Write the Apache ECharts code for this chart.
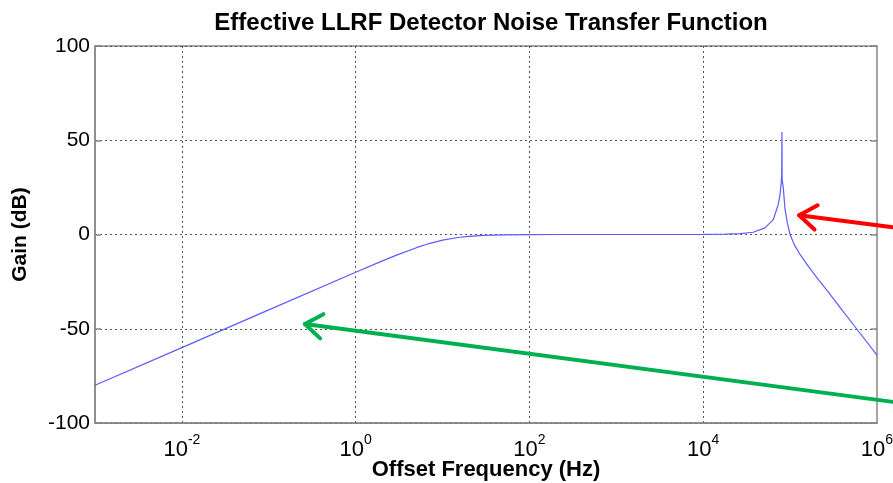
<!DOCTYPE html>
<html>
<head>
<meta charset="utf-8">
<script src="https://cdn.jsdelivr.net/npm/echarts@6/dist/echarts.min.js"></script>
<style>
html,body{margin:0;padding:0;background:#fff;}
#c{width:893px;height:483px;}
</style>
</head>
<body>
<div id="c"></div>
<script>
// ---- data ----
var freqHz = [0.001, 0.01, 0.1, 1, 2, 3, 5, 7, 10, 15, 20, 30, 50, 100, 200, 1000, 10000,
  18000, 26400, 37600, 51300, 64000, 72900, 76500, 79200, 80000, 80500, 81000, 83400, 87100,
  93000, 99800, 112000, 130000, 160000, 202000, 270000, 375000, 582000, 1000000];
var gainDb = [-80.0, -60.0, -40.0, -20.0, -14.1, -10.8, -7.0, -4.8, -3.0, -1.6, -1.0, -0.5, -0.2, -0.05, 0, 0, 0.05,
  0.2, 0.5, 1.2, 3.5, 7.9, 15.8, 21.0, 28.0, 31.6, 54.4, 29.0, 25.0, 14.0,
  6.0, 0.0, -5.5, -10.5, -16.5, -22.8, -30.0, -38.6, -50.0, -64.0];
var xTickExponents = [-3, -2, -1, 0, 1, 2, 3, 4, 5, 6];
var xLabelExponents = [-2, 0, 2, 4, 6];
var yTicks = [-100, -50, 0, 50, 100];
var titleText = 'Effective LLRF Detector Noise Transfer Function';
var xName = 'Offset Frequency (Hz)';
var yName = 'Gain (dB)';
// annotation arrows: [tailFreqHz, tailDb, tipFreqHz, tipDb, color]
var arrowRed = [1520000, 3.8, 127000, 10.2, '#ff0000'];
var arrowGreen = [1520000, -88.8, 0.26, -47.5, '#00b050'];

var seriesData = freqHz.map(function (f, i) { return [Math.log10(f), gainDb[i]]; });

var chart = echarts.init(document.getElementById('c'), null, {renderer: 'canvas'});
var FONT = 'Liberation Sans, Arial, Helvetica, sans-serif';
var gridColor = '#555';
var gridLineColors = xTickExponents.map(function (e) {
  return (xLabelExponents.indexOf(e) >= 0 && e !== 6) ? gridColor : 'rgba(0,0,0,0)';
});

chart.setOption({
  backgroundColor: '#fff',
  animation: false,
  title: {
    text: titleText,
    left: 486,
    textAlign: 'center',
    top: 6,
    textStyle: {fontFamily: FONT, fontWeight: 'bold', fontSize: 24, color: '#000'}
  },
  grid: {
    left: 95, top: 46, width: 782, height: 377,
    outerBoundsMode: 'none',
    containLabel: false,
    show: true, borderColor: '#888', borderWidth: 1.5, backgroundColor: '#fff'
  },
  xAxis: {
    type: 'value',
    min: xTickExponents[0],
    max: xTickExponents[xTickExponents.length - 1],
    interval: 1,
    name: xName,
    nameLocation: 'middle',
    nameGap: 36,
    nameMoveOverlap: false,
    nameTextStyle: {fontFamily: FONT, fontWeight: 'bold', fontSize: 22, color: '#000'},
    axisLine: {show: true, onZero: false, lineStyle: {color: '#888', width: 1.5}},
    axisTick: {show: false},
    splitLine: {show: true, lineStyle: {color: gridLineColors, type: [2, 3], width: 1}},
    axisLabel: {
      margin: 10,
      showMinLabel: true,
      showMaxLabel: true,
      hideOverlap: false,
      formatter: function (v) {
        if (xLabelExponents.indexOf(Math.round(v)) < 0) return '';
        return '{b|10}{s|' + Math.round(v) + '}';
      },
      rich: {
        b: {fontFamily: FONT, fontSize: 22, color: '#000', lineHeight: 24},
        s: {fontFamily: FONT, fontSize: 14, color: '#000', padding: [0, 0, 20, 0]}
      }
    }
  },
  yAxis: [{
    type: 'value',
    min: yTicks[0], max: yTicks[yTicks.length - 1], interval: 50,
    name: yName,
    nameLocation: 'middle',
    nameGap: 64,
    nameMoveOverlap: false,
    nameTextStyle: {fontFamily: FONT, fontWeight: 'bold', fontSize: 21, color: '#000'},
    axisLine: {show: true, onZero: false, lineStyle: {color: '#888', width: 1.5}},
    axisTick: {show: true, inside: true, length: 6, lineStyle: {color: '#888', width: 1.5}},
    splitLine: {show: true, lineStyle: {color: gridColor, type: [2, 3], width: 1}},
    axisLabel: {margin: 5, fontFamily: FONT, fontSize: 21, color: '#000'}
  }, {
    type: 'value', position: 'right',
    min: yTicks[0], max: yTicks[yTicks.length - 1], interval: 50,
    axisLine: {show: false, onZero: false},
    axisTick: {show: true, inside: true, length: 6, lineStyle: {color: '#888', width: 1.5}},
    axisLabel: {show: false},
    splitLine: {show: false}
  }],
  series: [{
    type: 'line',
    data: seriesData,
    showSymbol: false,
    smooth: false,
    lineStyle: {color: '#5c5cff', width: 1.2},
    clip: true
  }]
});

function arrowGraphic(a) {
  var tail = chart.convertToPixel({gridIndex: 0}, [Math.log10(a[0]), a[1]]);
  var tip = chart.convertToPixel({gridIndex: 0}, [Math.log10(a[2]), a[3]]);
  var ang = Math.atan2(tail[1] - tip[1], tail[0] - tip[0]);
  var L = 21, spread = 0.62;
  var p1 = [tip[0] + L * Math.cos(ang + spread), tip[1] + L * Math.sin(ang + spread)];
  var p2 = [tip[0] + L * Math.cos(ang - spread), tip[1] + L * Math.sin(ang - spread)];
  var style = {stroke: a[4], lineWidth: 4, lineCap: 'round', lineJoin: 'round', fill: null};
  return [
    {type: 'line', shape: {x1: tail[0], y1: tail[1], x2: tip[0], y2: tip[1]}, style: style, z: 100},
    {type: 'polyline', shape: {points: [p1, tip, p2]}, style: style, z: 100}
  ];
}
chart.setOption({graphic: arrowGraphic(arrowRed).concat(arrowGraphic(arrowGreen))});
</script>
</body>
</html>
